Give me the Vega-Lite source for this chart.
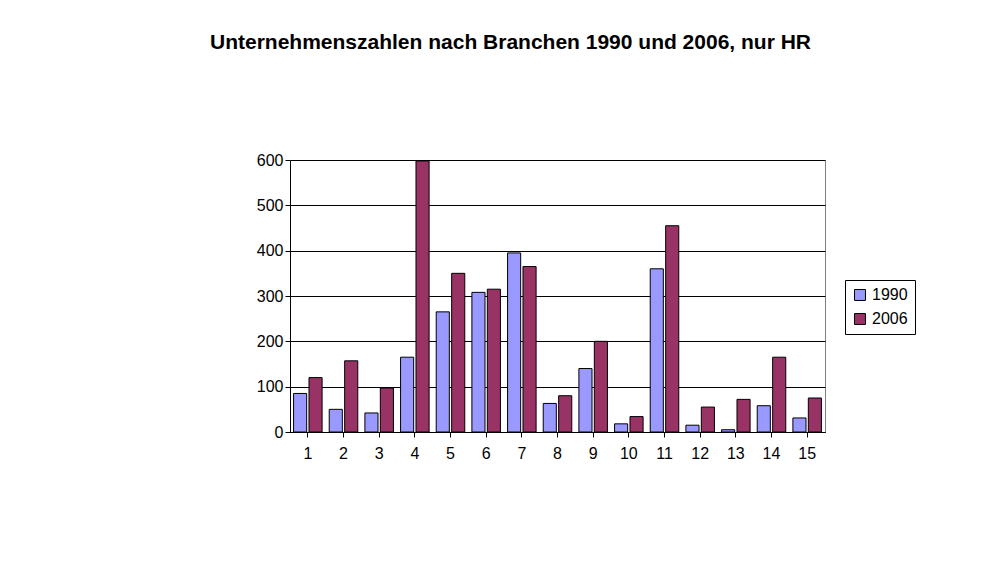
{
  "$schema": "https://vega.github.io/schema/vega-lite/v6.json",
  "width": 535,
  "height": 272,
  "autosize": "none",
  "padding": {"left": 290, "top": 160, "right": 174, "bottom": 152},
  "background": "white",
  "title": {
    "text": "Unternehmenszahlen nach Branchen 1990 und 2006, nur HR",
    "font": "Liberation Sans",
    "fontSize": 21,
    "fontWeight": "bold",
    "color": "black",
    "anchor": "middle",
    "offset": 99,
    "dx": -47
  },
  "data": {
    "values": [
      {"Branche": "1", "Jahr": "1990", "Anzahl": 85},
      {"Branche": "1", "Jahr": "2006", "Anzahl": 120},
      {"Branche": "2", "Jahr": "1990", "Anzahl": 50},
      {"Branche": "2", "Jahr": "2006", "Anzahl": 157},
      {"Branche": "3", "Jahr": "1990", "Anzahl": 42},
      {"Branche": "3", "Jahr": "2006", "Anzahl": 97},
      {"Branche": "4", "Jahr": "1990", "Anzahl": 165},
      {"Branche": "4", "Jahr": "2006", "Anzahl": 598},
      {"Branche": "5", "Jahr": "1990", "Anzahl": 265},
      {"Branche": "5", "Jahr": "2006", "Anzahl": 350},
      {"Branche": "6", "Jahr": "1990", "Anzahl": 308},
      {"Branche": "6", "Jahr": "2006", "Anzahl": 315},
      {"Branche": "7", "Jahr": "1990", "Anzahl": 395},
      {"Branche": "7", "Jahr": "2006", "Anzahl": 365},
      {"Branche": "8", "Jahr": "1990", "Anzahl": 63},
      {"Branche": "8", "Jahr": "2006", "Anzahl": 80},
      {"Branche": "9", "Jahr": "1990", "Anzahl": 140},
      {"Branche": "9", "Jahr": "2006", "Anzahl": 200},
      {"Branche": "10", "Jahr": "1990", "Anzahl": 18},
      {"Branche": "10", "Jahr": "2006", "Anzahl": 34},
      {"Branche": "11", "Jahr": "1990", "Anzahl": 360},
      {"Branche": "11", "Jahr": "2006", "Anzahl": 455},
      {"Branche": "12", "Jahr": "1990", "Anzahl": 15},
      {"Branche": "12", "Jahr": "2006", "Anzahl": 55},
      {"Branche": "13", "Jahr": "1990", "Anzahl": 5},
      {"Branche": "13", "Jahr": "2006", "Anzahl": 72},
      {"Branche": "14", "Jahr": "1990", "Anzahl": 58},
      {"Branche": "14", "Jahr": "2006", "Anzahl": 165},
      {"Branche": "15", "Jahr": "1990", "Anzahl": 31},
      {"Branche": "15", "Jahr": "2006", "Anzahl": 75}
    ]
  },
  "mark": {"type": "bar", "stroke": "black", "strokeWidth": 1},
  "encoding": {
    "x": {
      "field": "Branche",
      "type": "ordinal",
      "sort": null,
      "scale": {"paddingInner": 0.2, "paddingOuter": 0.1},
      "axis": {
        "title": null,
        "labelAngle": 0,
        "labelFont": "Liberation Sans",
        "labelFontSize": 16,
        "labelColor": "black",
        "domainColor": "black",
        "tickColor": "black",
        "labelPadding": 8
      }
    },
    "xOffset": {"field": "Jahr", "type": "nominal", "scale": {"paddingInner": 0.15}},
    "y": {
      "field": "Anzahl",
      "type": "quantitative",
      "scale": {"domain": [0, 600]},
      "axis": {
        "title": null,
        "values": [0, 100, 200, 300, 400, 500, 600],
        "labelFont": "Liberation Sans",
        "labelFontSize": 16,
        "labelColor": "black",
        "domainColor": "black",
        "tickColor": "black",
        "gridColor": "black",
        "gridWidth": 1,
        "grid": true
      }
    },
    "color": {
      "field": "Jahr",
      "type": "nominal",
      "scale": {"domain": ["1990", "2006"], "range": ["#9999FF", "#993366"]},
      "legend": {
        "title": null,
        "orient": "none",
        "legendX": 555,
        "legendY": 120,
        "labelFont": "Liberation Sans",
        "labelFontSize": 16,
        "labelColor": "black",
        "symbolType": "square",
        "symbolSize": 120,
        "symbolStrokeColor": "black",
        "symbolStrokeWidth": 1,
        "strokeColor": "black",
        "padding": 7,
        "rowPadding": 8,
        "fillColor": "white"
      }
    }
  },
  "config": {
    "view": {"stroke": "#808080"}
  }
}
